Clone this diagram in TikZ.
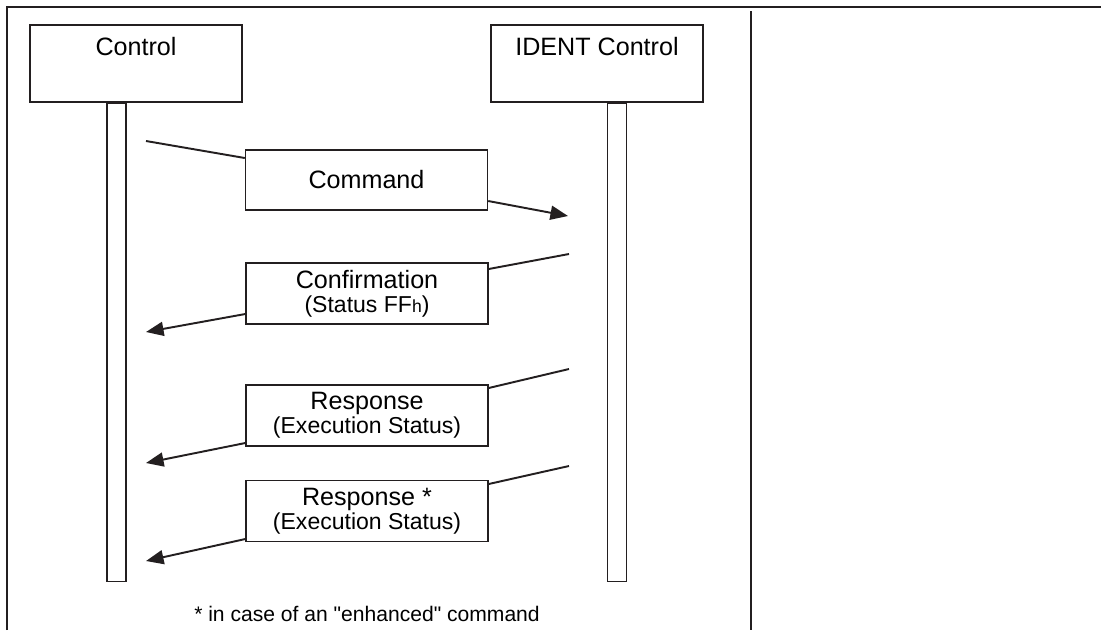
\documentclass[tikz,border=0pt]{standalone}
\usepackage{fontspec}
\setmainfont{Liberation Sans}
\newfontfamily\nomapfont{Liberation Sans}[Ligatures=ResetAll]
\usetikzlibrary{arrows.meta}
\definecolor{ink}{HTML}{231F20}
\newcommand\mysubfont{\fontsize{13.1pt}{13.1pt}\selectfont}
\newcommand\mytinyfont{\fontsize{10pt}{10pt}\selectfont}
\begin{document}
\begin{tikzpicture}[x=0.02cm,y=-0.02cm,
  frame/.style={draw=ink,line width=1.1pt},
  headbox/.style={draw=ink,line width=0.8pt,minimum width=212*0.02cm,minimum height=77*0.02cm,inner sep=0pt},
  lifeline/.style={draw=ink,line width=0.8pt,minimum width=19*0.02cm,minimum height=478*0.02cm,inner sep=0pt},
  msgbox/.style={draw=ink,line width=0.8pt,minimum width=242*0.02cm,minimum height=61*0.02cm,inner sep=0pt,align=center,
     font=\fontsize{14.3pt}{14.3pt}\selectfont},
  msg/.style={draw=ink,line width=1.1pt},
  msgarrow/.style={msg,-{Triangle[length=10pt,width=8pt]}},
  lbl/.style={font=\fontsize{14.3pt}{17pt}\selectfont,inner sep=0pt,anchor=base}]
\useasboundingbox (0,0) rectangle (1101,630);
% frame
\draw[frame] (7,630) -- (7,7) -- (1101,7);
\draw[frame] (751,11) -- (751,630);
% heads
\node[headbox] (ctl) at (136,63.5) {};
\node[lbl] (ctltxt) at (136,55) {Control};
\node[headbox] (idc) at (597,63.5) {};
\node[lbl] (idctxt) at (597,55) {IDENT Control};
% lifelines
\node[lifeline,anchor=north] (ll) at (ctl.south -| 116.5,0) {};
\node[lifeline,anchor=north] (rl) at (idc.south -| 617,0) {};
% message boxes
\node[msgbox,minimum height=60*0.02cm] (cmd) at (366.5,180) {Command};
\node[msgbox] (conf) at (367,293.5) {Confirmation\\[-0.5pt]{\mysubfont (Status FF{\mytinyfont h})}};
\node[msgbox] (resp) at (367,415.5) {Response\\[-0.5pt]{\mysubfont (Execution Status)}};
\node[msgbox] (resp2) at (367,511) {Response *\\[-0.5pt]{\mysubfont (Execution Status)}};
% coordinates
\coordinate (c1) at (146,141);
\coordinate (c1b) at (cmd.west |- 0,158);
\coordinate (c1c) at (cmd.east |- 0,201);
\coordinate (c1t) at (568,216);
\coordinate (c2) at (569,254);
\coordinate (c2b) at (conf.east |- 0,269);
\coordinate (c2c) at (conf.west |- 0,314);
\coordinate (c2t) at (146,332);
\coordinate (c3) at (569,369);
\coordinate (c3b) at (resp.east |- 0,388);
\coordinate (c3c) at (resp.west |- 0,443);
\coordinate (c3t) at (146,463);
\coordinate (c4) at (569,466);
\coordinate (c4b) at (resp2.east |- 0,484);
\coordinate (c4c) at (resp2.west |- 0,539);
\coordinate (c4t) at (146,561);
% connectors
\draw[msg] (c1) -- (c1b);
\draw[msgarrow] (c1c) -- (c1t);
\draw[msg] (c2) -- (c2b);
\draw[msgarrow] (c2c) -- (c2t);
\draw[msg] (c3) -- (c3b);
\draw[msgarrow] (c3c) -- (c3t);
\draw[msg] (c4) -- (c4b);
\draw[msgarrow] (c4c) -- (c4t);
% footnote
\node[font=\nomapfont\fontsize{12pt}{14pt}\selectfont,inner sep=0pt,anchor=base] (fn) at (367,621) {* in case of an "enhanced" command};
\end{tikzpicture}
\end{document}
